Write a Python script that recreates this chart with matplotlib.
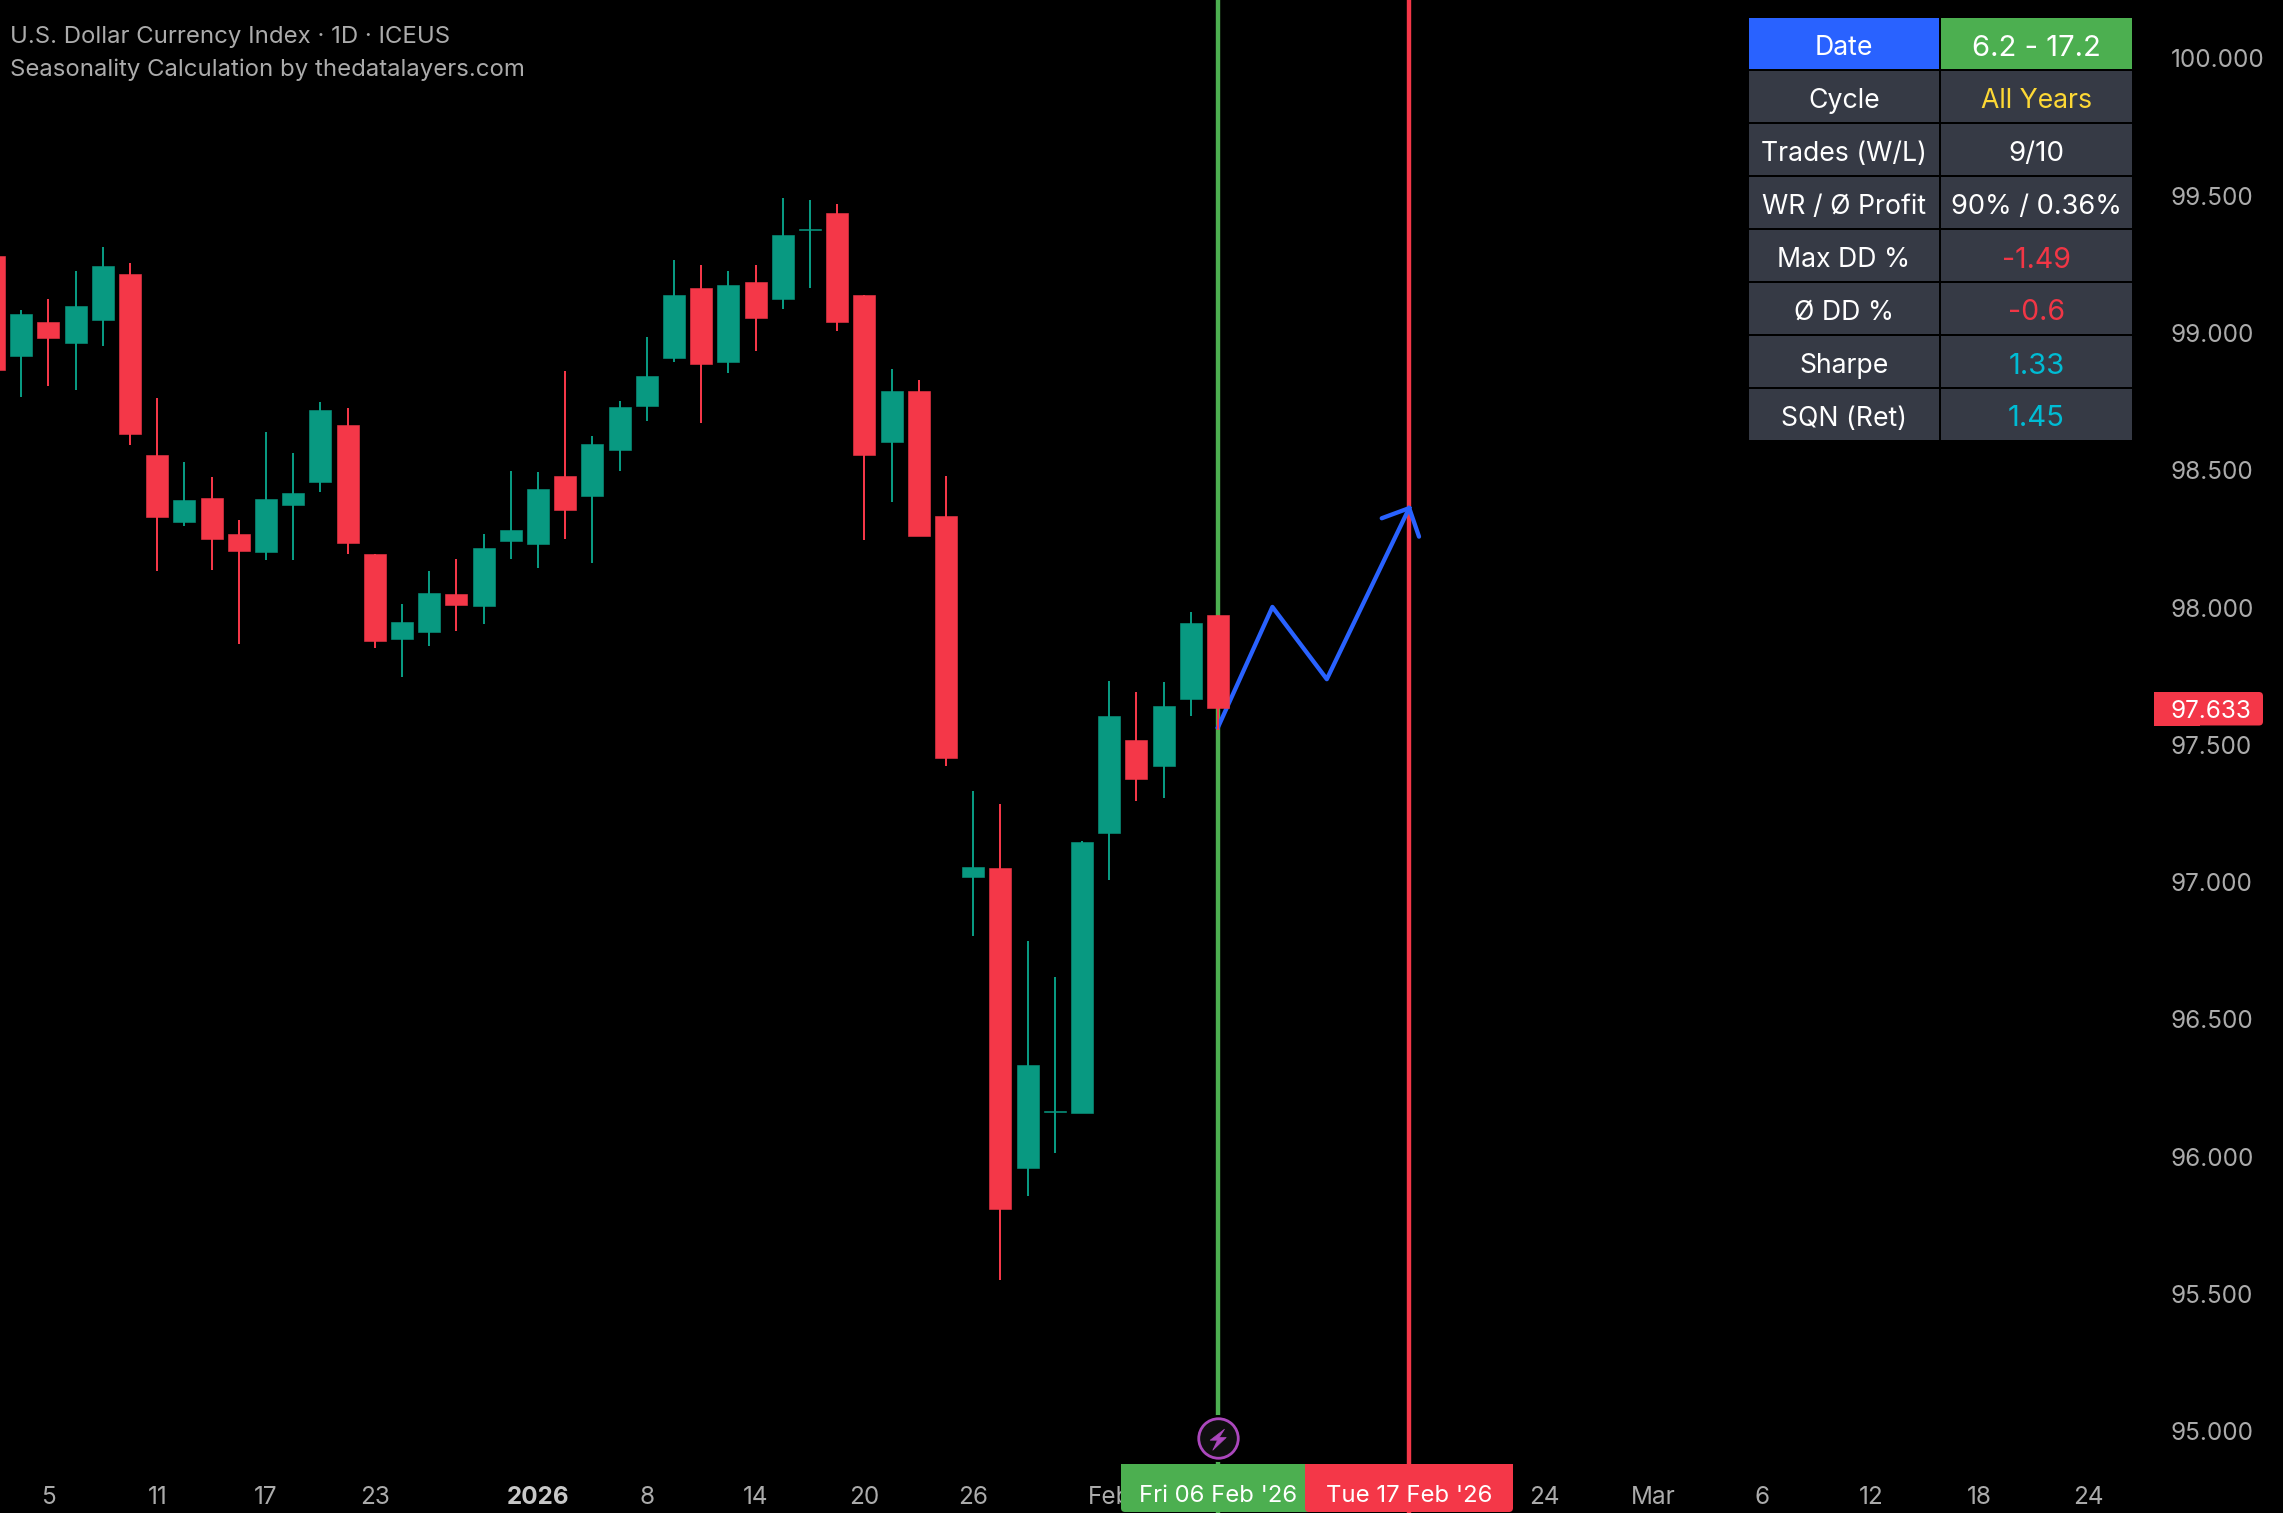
import matplotlib
matplotlib.use("Agg")
import matplotlib.pyplot as plt
from matplotlib.patches import Rectangle, FancyBboxPatch
from matplotlib.path import Path
from matplotlib.transforms import IdentityTransform

plt.rcParams['font.family'] = ['Inter', 'DejaVu Sans']

# ---- data (prices) ----
index = list(range(-1, 45))
opens = [99.280, 98.916, 99.039, 98.964, 99.047, 99.215, 98.555, 98.311, 98.399, 98.268, 98.202, 98.373, 98.456,
         98.665, 98.195, 97.886, 97.910, 98.049, 98.005, 98.242, 98.231, 98.479, 98.406, 98.574, 98.734, 98.908,
         99.164, 98.895, 99.186, 99.123, 99.376, 99.437, 99.138, 98.603, 98.789, 98.333, 97.018, 97.052, 95.959,
         96.163, 96.159, 97.179, 97.518, 97.423, 97.666, 97.974]
closes = [98.865, 99.069, 98.982, 99.098, 99.243, 98.632, 98.329, 98.391, 98.250, 98.205, 98.395, 98.417, 98.719,
          98.235, 97.878, 97.947, 98.053, 98.009, 98.217, 98.282, 98.432, 98.355, 98.596, 98.730, 98.843, 99.138,
          98.887, 99.174, 99.054, 99.357, 99.378, 99.040, 98.556, 98.789, 98.260, 97.451, 97.056, 95.809, 96.334,
          96.165, 97.146, 97.605, 97.375, 97.642, 97.944, 97.633]
highs = [99.290, 99.083, 99.124, 99.225, 99.312, 99.255, 98.763, 98.529, 98.475, 98.319, 98.639, 98.563, 98.748,
         98.727, 98.195, 98.013, 98.133, 98.177, 98.268, 98.497, 98.493, 98.861, 98.624, 98.752, 98.985, 99.266,
         99.247, 99.226, 99.247, 99.491, 99.485, 99.470, 99.138, 98.868, 98.829, 98.478, 97.331, 97.285, 96.786,
         96.655, 97.149, 97.732, 97.693, 97.728, 97.984, 97.974]
lows = [98.760, 98.765, 98.806, 98.792, 98.952, 98.592, 98.133, 98.296, 98.137, 97.867, 98.173, 98.173, 98.420,
        98.195, 97.853, 97.746, 97.860, 97.914, 97.940, 98.177, 98.144, 98.250, 98.163, 98.498, 98.679, 98.895,
        98.672, 98.854, 98.935, 99.086, 99.164, 99.008, 98.247, 98.385, 98.260, 97.423, 96.803, 95.552, 95.857,
        96.014, 96.159, 97.008, 97.296, 97.306, 97.605, 97.555]

last_price = 97.633
start_idx = 44
end_idx = 51.03
icon_price = 94.975

path_idx = [44, 46, 48, 51.03]
path_price = [97.564, 98.002, 97.739, 98.362]
arrow_idx = [50.02, 51.03, 51.39]
arrow_price = [98.325, 98.362, 98.258]

ytick_values = [95.0, 95.5, 96.0, 96.5, 97.0, 97.5, 98.0, 98.5, 99.0, 99.5, 100.0]
xtick_idx = [1, 5, 9, 13, 19, 23, 27, 31, 35, 40, 56, 60, 64, 68, 72, 76]
xtick_labels = ['5', '11', '17', '23', '2026', '8', '14', '20', '26', 'Feb', '24', 'Mar', '6', '12', '18', '24']

table_left = ['Date', 'Cycle', 'Trades (W/L)', 'WR / Ø Profit', 'Max DD %', 'Ø DD %', 'Sharpe', 'SQN (Ret)']
table_right = ['6.2 - 17.2', 'All Years', '9/10', '90% / 0.36%', '-1.49', '-0.6', '1.33', '1.45']

title_lines = ['U.S. Dollar Currency Index · 1D · ICEUS', 'Seasonality Calculation by thedatalayers.com']
start_label = "Fri 06 Feb '26"
end_label = "Tue 17 Feb '26"

# ---- styles ----
UP = '#089981'
DOWN = '#F43748'
BLUE = '#2962FF'
GREEN = '#4CAF50'
PURPLE = '#AB47BC'
CELL = '#363A45'
GREY = '#ABABAB'
right_colors = ['white', '#FDD835', 'white', 'white', '#F23645', '#F23645', '#00BCD4', '#00BCD4']
right_sizes = [21, 19.2, 20, 19.6, 20.5, 20.5, 21, 21]

W, H = 2283, 1513
PX = 72 / 100


def flip(y):
    return H - y


fig = plt.figure(figsize=(W / 100, H / 100), dpi=100, facecolor='black')
ax = fig.add_axes([0, 0, 1, 1], facecolor='black')
ax.set_xlim(44 - 1218 / 27.2, 44 + (W - 1218) / 27.2)
ax.set_ylim(100 - (H - 58.3) / 274.6, 100 + 58.3 / 274.6)
for s in ax.spines.values():
    s.set_visible(False)

# vertical markers and projected path
ax.axvline(start_idx, color=GREEN, lw=4.4 * PX, zorder=1.6)
ax.axvline(end_idx, color=DOWN, lw=4.4 * PX, zorder=1.6)
ax.plot(path_idx, path_price, color=BLUE, lw=4.3 * PX, zorder=2, solid_joinstyle='round')
ax.plot(arrow_idx, arrow_price, color=BLUE, lw=4.3 * PX, zorder=2, solid_joinstyle='round', solid_capstyle='round')

# candles
colors = [UP if c >= o else DOWN for o, c in zip(opens, closes)]
ax.vlines(index, lows, highs, colors=colors, lw=2 * PX, zorder=3)
tops = [max(o, c) for o, c in zip(opens, closes)]
bots = [min(o, c) for o, c in zip(opens, closes)]
ax.bar(index, [t - b for t, b in zip(tops, bots)], bottom=bots, width=0.81, color=colors,
       edgecolor=colors, linewidth=0.4, zorder=3.1)

# axes labels
ax.yaxis.tick_right()
ax.set_yticks(ytick_values, [f'{v:.3f}' for v in ytick_values])
ax.tick_params(axis='y', length=0, pad=-112 * PX, labelsize=17.5, labelcolor=GREY)
for lab in ax.get_yticklabels():
    lab.set_verticalalignment('center_baseline')
ax.set_xticks(xtick_idx, xtick_labels)
ax.tick_params(axis='x', length=0, pad=-27.5 * PX, labelsize=17.5, labelcolor=GREY)
for lab in ax.get_xticklabels():
    if lab.get_text() == '2026':
        lab.set_fontweight('bold')
        lab.set_color('#C8C8C8')

# event icon
ax.plot([start_idx], [icon_price], marker='o', ms=47 * PX, mfc='black', mec='none', ls='none', zorder=4)
ax.plot([start_idx], [icon_price], marker='o', ms=39.5 * PX, mfc='#0F0F0F', mec=PURPLE, mew=2.8 * PX,
        ls='none', zorder=4.1)
bolt = Path([(6, 9.3), (-8.3, -1.7), (-1, -1.7), (-5.7, -11.7), (7.7, 1), (0.7, 1), (6, 9.3), (6, 9.3)],
            [Path.MOVETO] + [Path.LINETO] * 6 + [Path.CLOSEPOLY])
ax.plot([start_idx], [icon_price], marker=bolt, ms=23.4 * PX, mfc=PURPLE, mec=PURPLE, mew=0.5, ls='none', zorder=4.2)


def box(x0, y0, x1, y1, color, z=6):
    ax.add_patch(Rectangle((x0, flip(y1)), x1 - x0, y1 - y0, transform=IdentityTransform(), facecolor=color,
                           edgecolor='none', clip_on=False, zorder=z))


def rbox(x0, y0, x1, y1, color, z=6):
    ax.add_patch(FancyBboxPatch((x0, flip(y1)), x1 - x0, y1 - y0, boxstyle='round,pad=0,rounding_size=4',
                                transform=IdentityTransform(), facecolor=color, edgecolor='none',
                                clip_on=False, zorder=z))


def label(x, y, s, color='white', size=19.2, ha='center', z=7):
    ax.text(x, flip(y), s, transform=IdentityTransform(), color=color, fontsize=size, ha=ha, va='center_baseline',
            zorder=z, clip_on=False)


# date labels on the time axis
rbox(1121, 1464, 1330, 1512, GREEN, 6)
box(1121, 1464, 1330, 1490, GREEN, 6)
rbox(1305, 1464, 1513, 1512, DOWN, 6.1)
box(1305, 1464, 1513, 1490, DOWN, 6.1)
label(1218, 1493, start_label, size=17.2)
label(1409, 1493, end_label, size=17.2)

# last price tag
rbox(2154, 692, 2263, 725.5, DOWN)
box(2154, 692, 2200, 725.5, DOWN)
label(2171, 709, f'{last_price:.3f}', size=17.5, ha='left')

# title
label(10.5, 34, title_lines[0], color=GREY, size=17.25, ha='left')
label(10.5, 67, title_lines[1], color=GREY, size=17.25, ha='left')

# stats table
for row, (a, b, col, sz) in enumerate(zip(table_left, table_right, right_colors, right_sizes)):
    y0 = 18 + 53 * row
    y1 = y0 + 51
    box(1749, y0, 1939, y1, BLUE if row == 0 else CELL)
    box(1941, y0, 2132, y1, GREEN if row == 0 else CELL)
    label(1844, y0 + 27, a)
    label(2036.5, y0 + 27, b, color=col, size=sz)

fig.savefig('out.png', dpi=100, facecolor='black')
